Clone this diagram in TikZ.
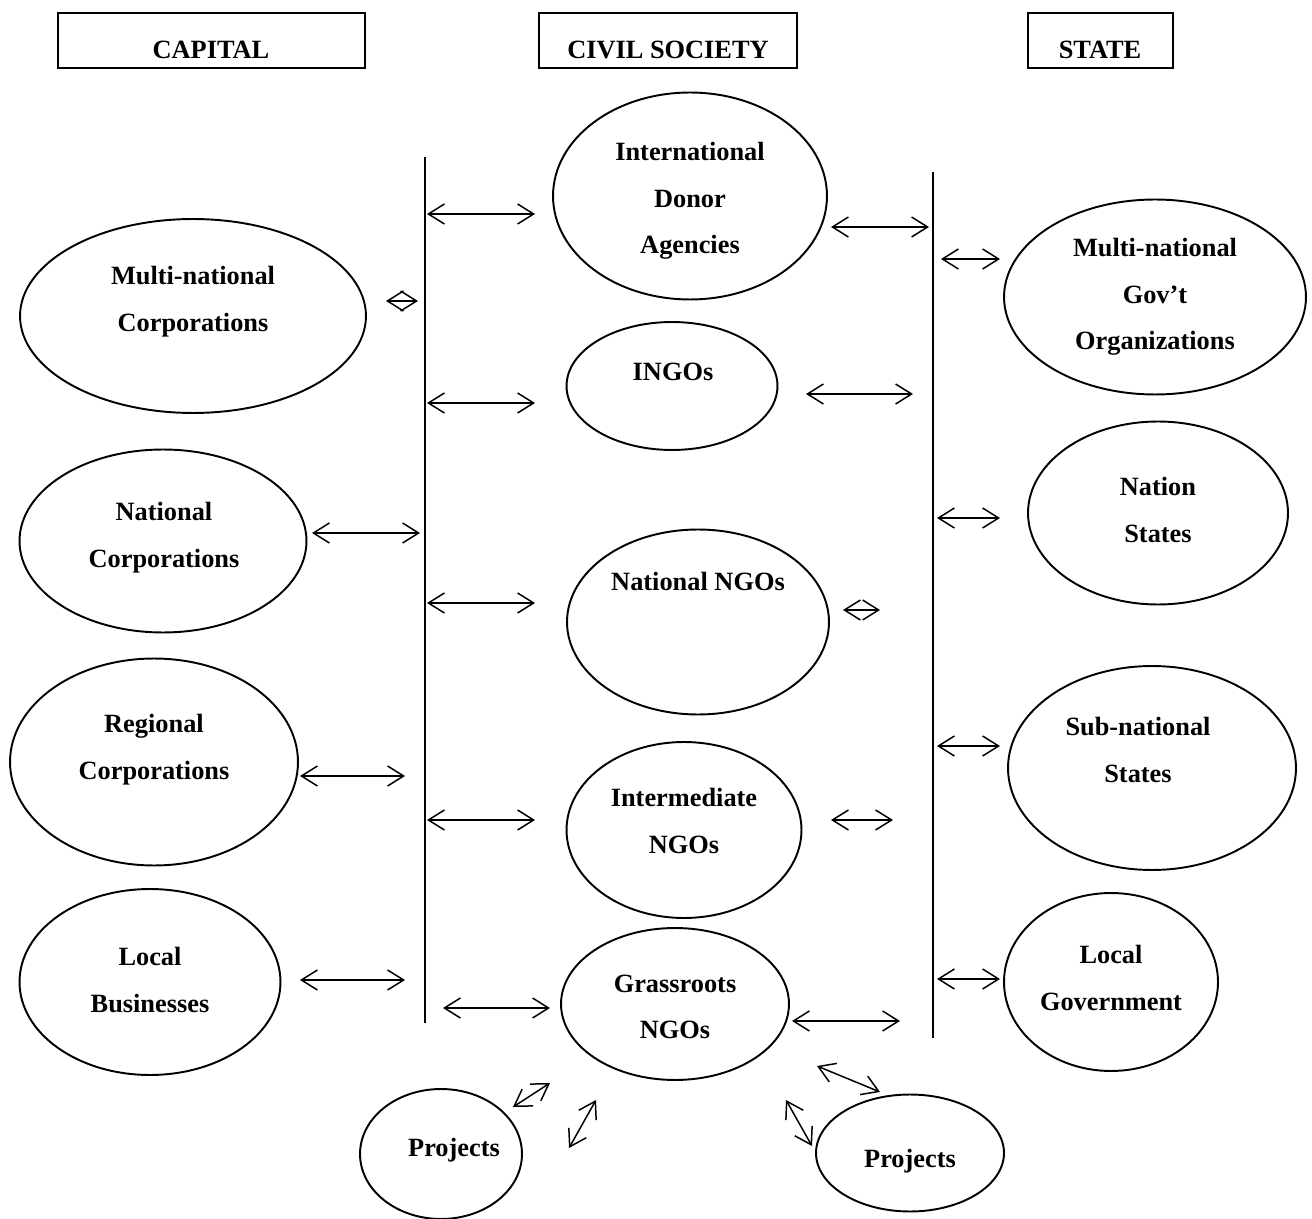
\documentclass[tikz,border=0pt]{standalone}
\usepackage{fontspec}
\setmainfont{Liberation Serif}
\usepackage{tikz}
\usetikzlibrary{positioning,shapes.geometric,arrows.meta}
\tikzset{
  blob/.style={ellipse,draw,line width=1.1pt,inner sep=0pt},
  hdr/.style={rectangle,draw,line width=1pt,inner sep=0pt,minimum height=1.1cm},
  txt/.style={align=center,inner sep=0pt,
              font=\bfseries\fontsize{15}{26.6}\selectfont},
  link/.style={{Straight Barb[length=3.2mm,width=4mm]}-{Straight Barb[length=3.2mm,width=4mm]},
               line width=0.85pt},
  divider/.style={line width=1.1pt}
}

\begin{document}
\begin{tikzpicture}[x=0.02cm,y=-0.02cm]
    \useasboundingbox (0,0) rectangle (1312,1219);

    % column headers
    \node[hdr,minimum width=6.14cm] (capital) at (211.5,40.5) {};
    \node[txt] (capital-t) at (211,50) {CAPITAL};
    \node[hdr,minimum width=5.16cm] (civil) at (668,40.5) {};
    \node[txt] (civil-t) at (668,50) {CIVIL SOCIETY};
    \node[hdr,minimum width=2.90cm] (state) at (1100.5,40.5) {};
    \node[txt] (state-t) at (1100,50) {STATE};

    % dividing lines
    \coordinate (ltop) at (425,157);
    \coordinate (lbot) at (425,1023);
    \coordinate (rtop) at (933,172);
    \coordinate (rbot) at (933,1038);
    \draw[divider] (ltop) -- (lbot);
    \draw[divider] (rtop) -- (rbot);

    % capital
    \node[blob,minimum width=6.92cm,minimum height=3.88cm] (mnc) at (193,316) {};
    \node[txt] (mnc-t) at (193,302) {Multi-national\\Corporations};
    \node[blob,minimum width=5.74cm,minimum height=3.66cm] (nc) at (163,541) {};
    \node[txt] (nc-t) at (164,538) {National\\Corporations};
    \node[blob,minimum width=5.76cm,minimum height=4.14cm] (rc) at (154,762) {};
    \node[txt] (rc-t) at (154,750) {Regional\\Corporations};
    \node[blob,minimum width=5.22cm,minimum height=3.72cm] (lb) at (150,982) {};
    \node[txt] (lb-t) at (150,980) {Local\\Businesses};

    % civil society
    \node[blob,minimum width=5.48cm,minimum height=4.14cm] (ida) at (690,196) {};
    \node[txt] (ida-t) at (690,201) {International\\Donor\\Agencies};
    \node[blob,minimum width=4.22cm,minimum height=2.56cm] (ingo) at (672,386) {};
    \node[txt] (ingo-t) at (673,372) {INGOs};
    \node[blob,minimum width=5.24cm,minimum height=3.70cm] (nngo) at (698,622) {};
    \node[txt] (nngo-t) at (698,581) {National NGOs};
    \node[blob,minimum width=4.70cm,minimum height=3.52cm] (imngo) at (684,830) {};
    \node[txt] (imngo-t) at (684,821) {Intermediate\\NGOs};
    \node[blob,minimum width=4.56cm,minimum height=3.04cm] (gngo) at (675,1004) {};
    \node[txt] (gngo-t) at (675,1007) {Grassroots\\NGOs};
    \node[blob,minimum width=3.24cm,minimum height=2.60cm] (projl) at (441,1154) {};
    \node[txt] (projl-t) at (454,1150) {Projects};
    \node[blob,minimum width=3.76cm,minimum height=2.34cm] (projr) at (910,1153) {};
    \node[txt] (projr-t) at (910,1161) {Projects};

    % state
    \node[blob,minimum width=6.04cm,minimum height=3.90cm] (mngo) at (1155,297) {};
    \node[txt] (mngo-t) at (1155,297) {Multi-national\\Gov't\\Organizations};
    \node[blob,minimum width=5.20cm,minimum height=3.66cm] (ns) at (1158,513) {};
    \node[txt] (ns-t) at (1158,510) {Nation\\States};
    \node[blob,minimum width=5.76cm,minimum height=4.08cm] (sns) at (1152,768) {};
    \node[txt] (sns-t) at (1138,750) {Sub-national\\States};
    \node[blob,minimum width=4.28cm,minimum height=3.56cm] (lg) at (1111,982) {};
    \node[txt] (lg-t) at (1111,978) {Local\\Government};

    % arrow ends
    \coordinate (mnc-a) at (386,301);   \coordinate (mnc-b) at (418,301);
    \coordinate (nc-a) at (312,533);    \coordinate (nc-b) at (420,533);
    \coordinate (rc-a) at (300,776);    \coordinate (rc-b) at (405,776);
    \coordinate (lb-a) at (300,980);    \coordinate (lb-b) at (405,980);
    \coordinate (ida-a) at (427,214);   \coordinate (ida-b) at (535,214);
    \coordinate (ingo-a) at (427,403);  \coordinate (ingo-b) at (535,403);
    \coordinate (nngo-a) at (427,603);  \coordinate (nngo-b) at (535,603);
    \coordinate (imngo-a) at (427,820); \coordinate (imngo-b) at (535,820);
    \coordinate (gngo-a) at (443,1008); \coordinate (gngo-b) at (550,1008);
    \coordinate (ida-c) at (831,227);   \coordinate (ida-d) at (929,227);
    \coordinate (ingo-c) at (806,394);  \coordinate (ingo-d) at (913,394);
    \coordinate (nngo-c) at (843,610);  \coordinate (nngo-d) at (880,610);
    \coordinate (imngo-c) at (831,820); \coordinate (imngo-d) at (893,820);
    \coordinate (gngo-c) at (792,1021); \coordinate (gngo-d) at (900,1021);
    \coordinate (mngo-a) at (941,259);  \coordinate (mngo-b) at (1000,259);
    \coordinate (ns-a) at (937,518);    \coordinate (ns-b) at (1000,518);
    \coordinate (sns-a) at (937,746);   \coordinate (sns-b) at (1000,746);
    \coordinate (lg-a) at (937,979);    \coordinate (lg-b) at (1000,979);
    \coordinate (projl-a) at (513,1107); \coordinate (projl-b) at (550,1083);
    \coordinate (projl-c) at (569,1148); \coordinate (projl-d) at (596,1100);
    \coordinate (projr-a) at (817,1066); \coordinate (projr-b) at (880,1092);
    \coordinate (projr-c) at (786,1100); \coordinate (projr-d) at (812,1146);

    % arrows
    \draw[link] (mnc-a) -- (mnc-b);
    \draw[link] (nc-a) -- (nc-b);
    \draw[link] (rc-a) -- (rc-b);
    \draw[link] (lb-a) -- (lb-b);
    \draw[link] (ida-a) -- (ida-b);
    \draw[link] (ingo-a) -- (ingo-b);
    \draw[link] (nngo-a) -- (nngo-b);
    \draw[link] (imngo-a) -- (imngo-b);
    \draw[link] (gngo-a) -- (gngo-b);
    \draw[link] (ida-c) -- (ida-d);
    \draw[link] (ingo-c) -- (ingo-d);
    \draw[link] (nngo-c) -- (nngo-d);
    \draw[link] (imngo-c) -- (imngo-d);
    \draw[link] (gngo-c) -- (gngo-d);
    \draw[link] (mngo-a) -- (mngo-b);
    \draw[link] (ns-a) -- (ns-b);
    \draw[link] (sns-a) -- (sns-b);
    \draw[link] (lg-a) -- (lg-b);
    \draw[link] (projl-a) -- (projl-b);
    \draw[link] (projl-c) -- (projl-d);
    \draw[link] (projr-a) -- (projr-b);
    \draw[link] (projr-c) -- (projr-d);
\end{tikzpicture}
\end{document}
